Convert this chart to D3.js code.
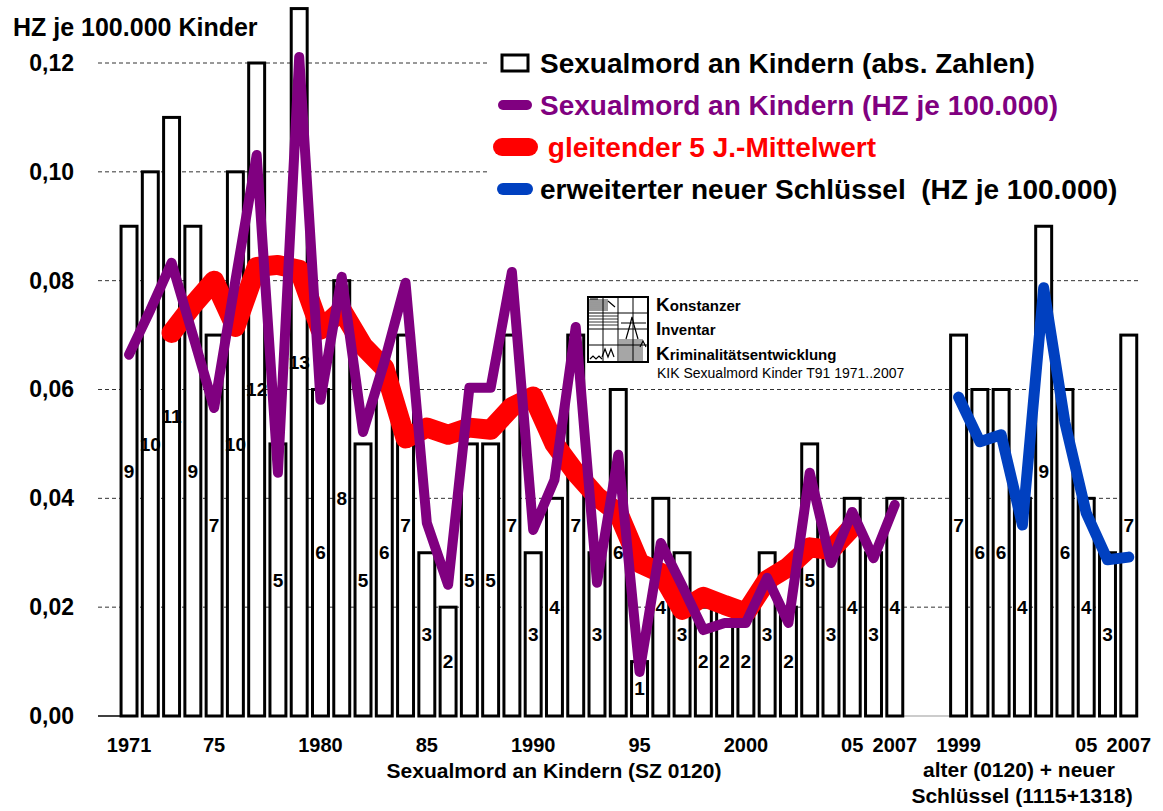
<!DOCTYPE html>
<html>
<head>
<meta charset="utf-8">
<script src="https://cdn.jsdelivr.net/npm/d3@7"></script>
<style>
  body { margin: 0; background: #fff; }
  svg { display: block; font-family: "Liberation Sans", Arial, sans-serif; }
</style>
</head>
<body>
<div id="chart"></div>
<script>
// Sexualmord an Kindern, KIK T91 1971..2007
var years = d3.range(1971, 2008);
var counts = [9,10,11,9,7,10,12,5,13,6,8,5,6,7,3,2,5,5,7,3,4,7,3,6,1,4,3,2,2,2,3,2,5,3,4,3,4];
var hz = [0.0664,0.0746,0.0833,0.070,0.0566,0.080,0.1031,0.0447,0.1211,0.0581,
          0.0807,0.0522,0.065,0.0796,0.0355,0.0241,0.0603,0.0603,0.0816,0.0342,
          0.0434,0.0715,0.0245,0.048,0.0081,0.0318,0.024,0.0158,0.0171,0.0171,
          0.0254,0.0171,0.0447,0.0281,0.0375,0.029,0.0388];
var maYears = d3.range(1973, 2006);
var ma = [0.0704,0.0755,0.080,0.0715,0.0825,0.0829,0.082,0.071,0.0746,0.068,
          0.064,0.051,0.053,0.0517,0.053,0.0526,0.0568,0.0587,0.050,0.0447,
          0.0403,0.0373,0.0281,0.0263,0.0195,0.0219,0.0204,0.019,0.025,0.0274,
          0.031,0.0305,0.0347];
var newYears = d3.range(1999, 2008);
var newCounts = [7,6,6,4,9,6,4,3,7];
var newHz = [0.0586,0.0504,0.0517,0.0351,0.0787,0.0539,0.0373,0.0287,0.0292];

var yTicks = [0, 0.02, 0.04, 0.06, 0.08, 0.10, 0.12];
var mainTicks = [1971, 1975, 1980, 1985, 1990, 1995, 2000, 2005, 2007];
var mainTickLabels = ["1971", "75", "1980", "85", "1990", "95", "2000", "05", "2007"];
var newTicks = [1999, 2005, 2007];
var newTickLabels = ["1999", "05", "2007"];

var legendItems = [
  {type: "box", label: "Sexualmord an Kindern (abs. Zahlen)"},
  {type: "line", label: "Sexualmord an Kindern (HZ je 100.000)"},
  {type: "fat", label: " gleitender 5 J.-Mittelwert"},
  {type: "blue", label: "erweiterter neuer Schl\u00fcssel  (HZ je 100.000)"}
];

var W = 1163, H = 811;
var PURPLE = "#800080", RED = "#ff0000", BLUE = "#0040c0";

var keyA = function(y) { return "a" + y; };
var keyB = function(y) { return "b" + y; };
var slots = years.map(keyA).concat(["g1", "g2"], newYears.map(keyB));

var x = d3.scaleBand()
    .domain(slots)
    .range([118.4, 1139.4])
    .paddingInner(0.25)
    .paddingOuter(0.125);
var bw = x.bandwidth();
var cx = function(k) { return x(k) + bw / 2; };

var y = d3.scaleLinear().domain([0, 0.12]).range([716, 63]);

var svg = d3.select("#chart").append("svg")
    .attr("width", W)
    .attr("height", H);

svg.append("rect").attr("width", W).attr("height", H).attr("fill", "#fff");

// grid
svg.append("g").selectAll("line")
    .data(yTicks.slice(1))
  .enter().append("line")
    .attr("x1", 98).attr("x2", 1140)
    .attr("y1", function(d) { return y(d); })
    .attr("y2", function(d) { return y(d); })
    .attr("stroke", "#333")
    .attr("stroke-width", 1)
    .attr("stroke-dasharray", "4,3");

// base line pieces
svg.append("line")
    .attr("x1", 98).attr("x2", x(keyA(1971)))
    .attr("y1", y(0)).attr("y2", y(0))
    .attr("stroke", "#000").attr("stroke-width", 1.5);
svg.append("line")
    .attr("x1", x(keyA(2007)) + bw).attr("x2", x(keyB(1999)))
    .attr("y1", y(0)).attr("y2", y(0))
    .attr("stroke", "#999").attr("stroke-width", 1);

// bars with count labels
var barData = years.map(function(yr, i) { return {k: keyA(yr), n: counts[i]}; })
  .concat(newYears.map(function(yr, i) { return {k: keyB(yr), n: newCounts[i]}; }));

var bars = svg.append("g").selectAll("g")
    .data(barData)
  .enter().append("g");

bars.append("rect")
    .attr("x", function(d) { return x(d.k); })
    .attr("y", function(d) { return y(d.n / 100); })
    .attr("width", bw)
    .attr("height", function(d) { return y(0) - y(d.n / 100); })
    .attr("fill", "#fff")
    .attr("stroke", "#000")
    .attr("stroke-width", 3);

bars.append("text")
    .attr("x", function(d) { return cx(d.k); })
    .attr("y", function(d) { return y(d.n / 200); })
    .attr("dy", "0.35em")
    .attr("text-anchor", "middle")
    .attr("font-size", 19)
    .attr("font-weight", "bold")
    .text(function(d) { return d.n; });

// lines
var line = d3.line()
    .x(function(d) { return cx(d[0]); })
    .y(function(d) { return y(d[1]); });

svg.append("path")
    .datum(maYears.map(function(yr, i) { return [keyA(yr), ma[i]]; }))
    .attr("d", line)
    .attr("fill", "none")
    .attr("stroke", RED)
    .attr("stroke-width", 20)
    .attr("stroke-linejoin", "round")
    .attr("stroke-linecap", "round");

svg.append("path")
    .datum(years.map(function(yr, i) { return [keyA(yr), hz[i]]; }))
    .attr("d", line)
    .attr("fill", "none")
    .attr("stroke", PURPLE)
    .attr("stroke-width", 10)
    .attr("stroke-linejoin", "round")
    .attr("stroke-linecap", "round");

svg.append("path")
    .datum(newYears.map(function(yr, i) { return [keyB(yr), newHz[i]]; }))
    .attr("d", line)
    .attr("fill", "none")
    .attr("stroke", BLUE)
    .attr("stroke-width", 11)
    .attr("stroke-linejoin", "round")
    .attr("stroke-linecap", "round");

// y axis
var yAxis = svg.append("g")
    .attr("transform", "translate(74,0)")
    .call(d3.axisLeft(y).tickValues(yTicks).tickSize(0).tickPadding(0)
      .tickFormat(function(d) { return d.toFixed(2).replace(".", ","); }));
yAxis.select(".domain").remove();
yAxis.selectAll("text")
    .attr("font-family", "Liberation Sans, Arial, sans-serif")
    .attr("font-size", 23)
    .attr("font-weight", "bold")
    .attr("fill", "#000");

svg.append("text")
    .attr("x", 13).attr("y", 36)
    .attr("font-size", 25)
    .attr("font-weight", "bold")
    .text("HZ je 100.000 Kinder");

// x axis labels
function xLabels(ticks, labels, key) {
  var g = svg.append("g")
      .attr("transform", "translate(0," + 732 + ")")
      .call(d3.axisBottom(x).tickValues(ticks.map(key)).tickSize(0).tickPadding(0)
        .tickFormat(function(d, i) { return labels[i]; }));
  g.select(".domain").remove();
  g.selectAll("text")
      .attr("dy", null)
      .attr("y", 20)
      .attr("font-family", "Liberation Sans, Arial, sans-serif")
      .attr("font-size", 20)
      .attr("font-weight", "bold")
      .attr("fill", "#000");
}
xLabels(mainTicks, mainTickLabels, keyA);
xLabels(newTicks, newTickLabels, keyB);

svg.append("text")
    .attr("x", 554).attr("y", 778)
    .attr("text-anchor", "middle")
    .attr("font-size", 21).attr("font-weight", "bold")
    .text("Sexualmord an Kindern (SZ 0120)");
svg.append("text")
    .attr("x", 1019).attr("y", 777)
    .attr("text-anchor", "middle")
    .attr("font-size", 21).attr("font-weight", "bold")
    .text("alter (0120) + neuer");
svg.append("text")
    .attr("x", 1022).attr("y", 803)
    .attr("text-anchor", "middle")
    .attr("font-size", 21).attr("font-weight", "bold")
    .text("Schl\u00fcssel (1115+1318)");

// legend
var legend = svg.append("g");
legend.append("rect")
    .attr("x", 490).attr("y", 30).attr("width", 655).attr("height", 185)
    .attr("fill", "#fff");

var rowY = [63, 105, 147, 189];
legendItems.forEach(function(it, i) {
  var yy = rowY[i];
  if (it.type === "box") {
    legend.append("rect")
        .attr("x", 502).attr("y", yy - 8).attr("width", 26).attr("height", 16)
        .attr("fill", "#fff").attr("stroke", "#000").attr("stroke-width", 3);
  } else {
    var col = it.type === "line" ? PURPLE : it.type === "fat" ? RED : BLUE;
    var sw = it.type === "line" ? 10 : it.type === "fat" ? 18 : 12;
    legend.append("line")
        .attr("x1", 503 - (it.type === "fat" ? 1 : 0)).attr("x2", 527 + (it.type === "fat" ? 2 : 0))
        .attr("y1", yy).attr("y2", yy)
        .attr("stroke", col).attr("stroke-width", sw)
        .attr("stroke-linecap", "round");
  }
  legend.append("text")
      .attr("x", 540).attr("y", yy + 10)
      .attr("font-size", 28).attr("font-weight", "bold")
      .attr("fill", it.type === "line" ? PURPLE : it.type === "fat" ? RED : "#000")
      .style("white-space", "pre")
      .text(it.label);
});

// KIK logo
var logo = svg.append("g").attr("transform", "translate(588,297)");
logo.append("rect").attr("width", 60).attr("height", 65)
    .attr("fill", "#fff").attr("stroke", "#000").attr("stroke-width", 2);
[15, 30, 45].forEach(function(v) {
  logo.append("line").attr("x1", v).attr("x2", v).attr("y1", 0).attr("y2", 65)
      .attr("stroke", "#000").attr("stroke-width", 1);
});
[16, 32, 48].forEach(function(v) {
  logo.append("line").attr("x1", 0).attr("x2", 60).attr("y1", v).attr("y2", v)
      .attr("stroke", "#000").attr("stroke-width", 1);
});
[3, 5, 7, 9, 11, 13, 19, 22, 25, 28].forEach(function(v) {
  logo.append("line").attr("x1", 1).attr("x2", v < 16 ? 20 : 30).attr("y1", v).attr("y2", v)
      .attr("stroke", "#000").attr("stroke-width", 0.8);
});
[32, 34, 36, 38, 40, 42, 44, 46, 48, 50, 52, 54].forEach(function(v) {
  logo.append("line").attr("x1", v).attr("x2", v).attr("y1", 42).attr("y2", 64)
      .attr("stroke", "#000").attr("stroke-width", 0.7);
});
logo.append("path")
    .attr("d", "M38,42 L42,28 L44,20 L46,28 L50,42 M14,60 L17,52 L20,60 L23,52 L26,60 M2,62 L5,59 L8,62 L11,59 L14,62 M52,50 L55,44 L58,50 M20,4 L27,10 M2,2 L10,2 M33,26 L58,26")
    .attr("fill", "none").attr("stroke", "#000").attr("stroke-width", 1.2);

var kik = svg.append("g").attr("font-weight", "bold").attr("font-size", 15);
[["K", "onstanzer", 311], ["I", "nventar", 335], ["K", "riminalit\u00e4tsentwicklung", 360]].forEach(function(r) {
  var t = kik.append("text").attr("x", 656).attr("y", r[2]);
  t.append("tspan").attr("font-size", 19).text(r[0]);
  t.append("tspan").text(r[1]);
});
svg.append("text")
    .attr("x", 657).attr("y", 378)
    .attr("font-size", 14)
    .text("KIK Sexualmord Kinder T91 1971..2007");
</script>
</body>
</html>
